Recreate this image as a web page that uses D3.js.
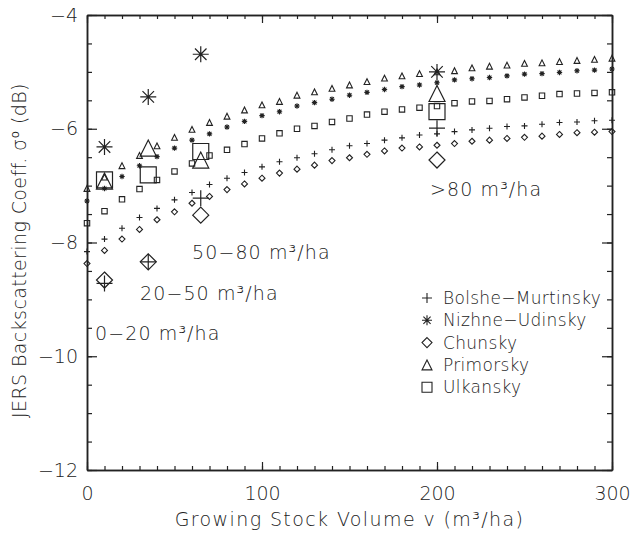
<!DOCTYPE html>
<html>
<head>
<meta charset="utf-8">
<script src="https://cdn.jsdelivr.net/npm/d3@7"></script>
<style>
  body { margin: 0; background: #fff; }
  svg text { font-family: "DejaVu Sans", sans-serif; font-weight: 200; fill: #222; }
</style>
</head>
<body>
<svg class="chart"></svg>
<script>
// growing stock volume (m3/ha) for the small-marker model curves
const volume = [0, 10, 20, 30, 40, 50, 60, 70, 80, 90, 100, 110, 120, 130, 140, 150,
                160, 170, 180, 190, 200, 210, 220, 230, 240, 250, 260, 270, 280, 290, 300]

const bolshe   = [-8.16, -7.94, -7.75, -7.56, -7.40, -7.25, -7.12, -6.98, -6.87, -6.77, -6.67,
                  -6.58, -6.51, -6.44, -6.37, -6.30, -6.26, -6.20, -6.16, -6.11, -6.09,
                  -6.05, -6.02, -5.99, -5.96, -5.95, -5.92, -5.89, -5.88, -5.86, -5.85]
const nizhne   = [-7.27, -7.05, -6.84, -6.65, -6.49, -6.34, -6.20, -6.09, -5.97, -5.87, -5.77,
                  -5.70, -5.60, -5.54, -5.48, -5.41, -5.36, -5.31, -5.26, -5.23, -5.19,
                  -5.14, -5.12, -5.10, -5.07, -5.04, -5.03, -5.01, -4.98, -4.97, -4.95]
const chunsky  = [-8.37, -8.14, -7.94, -7.77, -7.60, -7.46, -7.31, -7.19, -7.07, -6.97, -6.87,
                  -6.78, -6.71, -6.64, -6.56, -6.51, -6.45, -6.39, -6.34, -6.32, -6.29,
                  -6.26, -6.22, -6.20, -6.17, -6.15, -6.13, -6.10, -6.07, -6.06, -6.05]
const primorsky = [-7.05, -6.85, -6.65, -6.47, -6.30, -6.15, -6.01, -5.89, -5.78, -5.67, -5.58,
                  -5.52, -5.41, -5.35, -5.29, -5.23, -5.17, -5.11, -5.07, -5.03, -5.00,
                  -4.98, -4.93, -4.90, -4.88, -4.85, -4.84, -4.82, -4.80, -4.78, -4.76]
const ulkansky = [-7.66, -7.45, -7.24, -7.06, -6.90, -6.75, -6.61, -6.47, -6.37, -6.27, -6.17,
                  -6.08, -6.00, -5.95, -5.88, -5.82, -5.75, -5.70, -5.66, -5.63, -5.60,
                  -5.55, -5.52, -5.51, -5.48, -5.45, -5.42, -5.39, -5.38, -5.37, -5.36]

// class means (big markers)
const classVolume    = [10, 35, 65, 200]
const classBolshe    = [-8.72, -8.34, -7.22, -5.99]
const classNizhne    = [-6.32, -5.44, -4.69, -5.00]
const classChunsky   = [-8.66, -8.34, -7.52, -6.55]
const classPrimorsky = [-6.92, -6.34, -6.55, -5.38]
const classUlkansky  = [-6.90, -6.81, -6.40, -5.70]

const siteNames = ["Bolshe\u2212Murtinsky", "Nizhne\u2212Udinsky", "Chunsky", "Primorsky", "Ulkansky"]
const siteSymbols = ["plus", "asterisk", "diamond", "triangle", "square"]
const classLabels = ["0\u221220 m\u00b3/ha", "20\u221250 m\u00b3/ha", "50\u221280 m\u00b3/ha", ">80 m\u00b3/ha"]
const xTicks = [0, 100, 200, 300]
const yTicks = [-4, -6, -8, -10, -12]

const width = 633, height = 533
const plot = {left: 87, right: 612, top: 15, bottom: 470}
const ink = "#222"

const svg = d3.select(".chart")
    .attr("width", width)
    .attr("height", height)

const x = d3.scaleLinear().domain([0, 300]).range([plot.left, plot.right])
const y = d3.scaleLinear().domain([-12, -4]).range([plot.bottom, plot.top])

function symbolPath(type, r) {
    if (type == "plus") return `M${-r},0H${r}M0,${-r}V${r}`
    if (type == "asterisk") {
        const a = r * 0.72
        return `M${-r},0H${r}M0,${-r}V${r}M${-a},${-a}L${a},${a}M${-a},${a}L${a},${-a}`
    }
    if (type == "diamond") return `M0,${-r}L${r},0L0,${r}L${-r},0Z`
    if (type == "triangle") return `M${-r},${r}L0,${-r}L${r},${r}Z`
    if (type == "square") return `M${-r},${-r}H${r}V${r}H${-r}Z`
}

// axes: major + minor ticks, all pointing inward
function styleAxis(g) {
    g.selectAll(".domain").attr("stroke", ink).attr("stroke-width", 1.5)
    g.selectAll(".tick line").attr("stroke", ink).attr("stroke-width", 1.2)
    g.selectAll(".tick text")
        .style("font-size", "19px")
        .attr("fill", ink)
}

svg.append("g")
    .attr("transform", `translate(0,${plot.bottom})`)
    .call(d3.axisBottom(x).tickValues(x.ticks(30)).tickSize(-4).tickSizeOuter(0).tickFormat(""))
    .call(styleAxis)
svg.append("g")
    .attr("transform", `translate(0,${plot.bottom})`)
    .call(d3.axisBottom(x).tickValues(xTicks).tickSize(-8).tickSizeOuter(0).tickPadding(17))
    .call(styleAxis)
svg.append("g")
    .attr("transform", `translate(0,${plot.top})`)
    .call(d3.axisTop(x).tickValues(x.ticks(30)).tickSize(-4).tickSizeOuter(0).tickFormat(""))
    .call(styleAxis)
svg.append("g")
    .attr("transform", `translate(0,${plot.top})`)
    .call(d3.axisTop(x).tickValues(xTicks).tickSize(-8).tickSizeOuter(0).tickFormat(""))
    .call(styleAxis)

svg.append("g")
    .attr("transform", `translate(${plot.left},0)`)
    .call(d3.axisLeft(y).tickValues(y.ticks(16)).tickSize(-5).tickSizeOuter(0).tickFormat(""))
    .call(styleAxis)
svg.append("g")
    .attr("transform", `translate(${plot.left},0)`)
    .call(d3.axisLeft(y).tickValues(yTicks).tickSize(-10).tickSizeOuter(0).tickPadding(9)
        .tickFormat(d => d3.format("d")(d).replace("-", "\u2212")))
    .call(styleAxis)
svg.append("g")
    .attr("transform", `translate(${plot.right},0)`)
    .call(d3.axisRight(y).tickValues(y.ticks(16)).tickSize(-5).tickSizeOuter(0).tickFormat(""))
    .call(styleAxis)
svg.append("g")
    .attr("transform", `translate(${plot.right},0)`)
    .call(d3.axisRight(y).tickValues(yTicks).tickSize(-10).tickSizeOuter(0).tickFormat(""))
    .call(styleAxis)

// axis titles
svg.append("text")
    .attr("x", (plot.left + plot.right) / 2)
    .attr("y", 526)
    .attr("text-anchor", "middle")
    .style("font-size", "19px")
    .style("letter-spacing", "1.4px")
    .text("Growing Stock Volume v (m\u00b3/ha)")

svg.append("text")
    .attr("transform", `translate(26,${(plot.top + plot.bottom) / 2 + 8}) rotate(-90)`)
    .attr("text-anchor", "middle")
    .style("font-size", "19px")
    .style("letter-spacing", "0.4px")
    .text("JERS Backscattering Coeff. \u03c3\u2070 (dB)")

// small markers (model curves) and big markers (class means)
const sites = [
    {values: bolshe, means: classBolshe},
    {values: nizhne, means: classNizhne},
    {values: chunsky, means: classChunsky},
    {values: primorsky, means: classPrimorsky},
    {values: ulkansky, means: classUlkansky}
]
const smallSize = {plus: 3, asterisk: 2.7, diamond: 3, triangle: 2.9, square: 2.7}

sites.forEach((site, i) => {
    const sym = siteSymbols[i]
    svg.append("g").selectAll("path")
        .data(volume.map((v, j) => [v, site.values[j]]))
        .join("path")
        .attr("transform", d => `translate(${x(d[0])},${y(d[1])})`)
        .attr("d", symbolPath(sym, smallSize[sym]))
        .attr("fill", "none")
        .attr("stroke", ink)
        .attr("stroke-width", 1.1)

    svg.append("g").selectAll("path")
        .data(classVolume.map((v, j) => [v, site.means[j]]))
        .join("path")
        .attr("transform", d => `translate(${x(d[0])},${y(d[1])})`)
        .attr("d", symbolPath(sym, 8))
        .attr("fill", "none")
        .attr("stroke", ink)
        .attr("stroke-width", 1.2)
})

// volume class annotations
const labelPos = [[4.6, -9.6], [30.3, -8.9], [60, -8.18], [196, -7.06]]
classLabels.forEach((t, i) => {
    svg.append("text")
        .attr("x", x(labelPos[i][0]))
        .attr("y", y(labelPos[i][1]))
        .attr("dy", "0.35em")
        .style("font-size", "19px")
        .style("letter-spacing", "1.1px")
        .text(t)
})

// legend
const legend = svg.append("g").attr("transform", "translate(427,298)")
siteNames.forEach((name, i) => {
    legend.append("path")
        .attr("transform", `translate(0,${i * 22.3})`)
        .attr("d", symbolPath(siteSymbols[i], 5))
        .attr("fill", "none")
        .attr("stroke", ink)
        .attr("stroke-width", 1.1)
    legend.append("text")
        .attr("x", 16)
        .attr("y", i * 22.3)
        .attr("dy", "0.36em")
        .style("font-size", "17px")
        .style("letter-spacing", "0.3px")
        .text(name)
})
</script>
</body>
</html>
